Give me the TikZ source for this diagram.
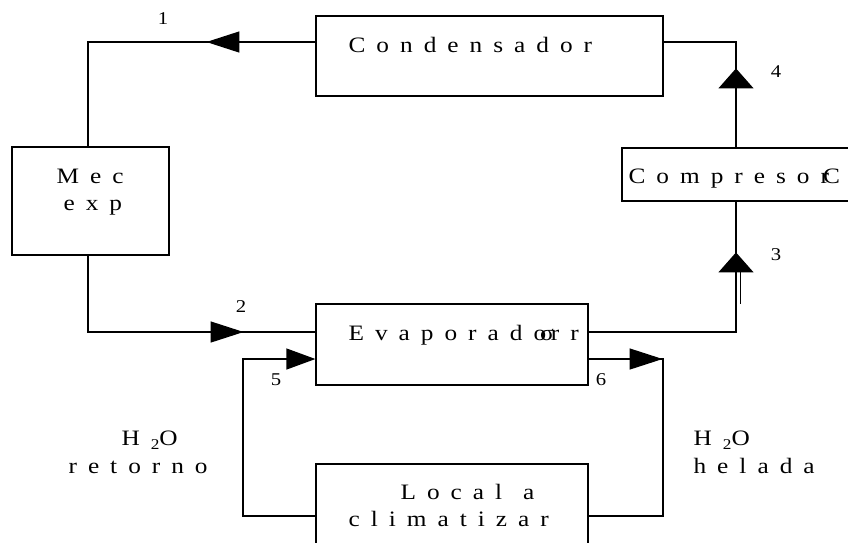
\documentclass[tikz,border=0pt]{standalone}
\usepackage{fontspec}
\usetikzlibrary{arrows.meta,decorations.markings}
\newfontfamily\diagfont[FakeStretch=1.15]{Liberation Serif}
\newcommand\spacedfont{\diagfont\fontsize{22}{26}\selectfont\spaceskip=11pt\relax}
\newcommand\numfont{\diagfont\fontsize{18}{20}\selectfont}
\newcommand\subtwo{\raisebox{-4pt}{\diagfont\fontsize{15}{15}\selectfont 2}}

\begin{document}
\begin{tikzpicture}[x=1pt, y=-1pt, line width=1.2pt,
    unit/.style={draw, inner sep=0pt},
    txt/.style={anchor=base west, inner sep=0pt, font=\spacedfont},
    num/.style={anchor=base, inner sep=0pt, font=\numfont},
    harrow/.style={postaction={decorate}, decoration={markings,
      mark=at position #1 with {\arrow{Triangle[length=33pt,width=21pt]}}}},
    varrow/.style={postaction={decorate}, decoration={markings,
      mark=at position #1 with {\arrow{Triangle[length=20pt,width=35pt]}}}}]
  \useasboundingbox (0,0) rectangle (848,542);

  % boxes
  \node[unit, minimum width=347pt, minimum height=80pt] (cond) at (489.5,56) {};
  \node[unit, minimum width=157pt, minimum height=108pt] (mec) at (90.5,201) {};
  \node[unit, minimum width=272pt, minimum height=81pt] (evap) at (452,344.5) {};
  \node[unit, minimum width=258pt, minimum height=53pt] (comp) at (751,174.5) {};
  \node[unit, minimum width=272pt, minimum height=120pt] (local) at (452,524) {};

  % texts
  \node[txt] (tcond) at (348,52) {C o n d e n s a d o r};
  \node[txt] (tmec) at (56,183) {M e c};
  \node[txt] (texp) at (63,210) {e x p};
  \node[txt] (tevap) at (348,340) {E v a p o r a d o\kern-6pt σ\kern-3pt r r};
  \node[txt] (tcomp) at (628,183) {C o m p r e s o r\kern-6pt C};
  \node[txt] (tloc) at (400,499) {L o c a l\hspace{10pt} a};
  \node[txt] (tclim) at (348,526) {c l i m a t i z a r};
  \node[txt] (thl) at (121,445) {H \subtwo O};
  \node[txt] (tret) at (68,473) {r e t o r n o};
  \node[txt] (thr) at (693,445) {H \subtwo O};
  \node[txt] (thel) at (693,473) {h e l a d a};

  % states
  \node[num] (n1) at (163,24) {1};
  \node[num] (n2) at (241,312) {2};
  \node[num] (n3) at (776,260) {3};
  \node[num] (n4) at (776,77) {4};
  \node[num] (n5) at (276,385) {5};
  \node[num] (n6) at (601,385) {6};

  % corners
  \coordinate (k1) at (88,42);
  \coordinate (k2) at (88,332);
  \coordinate (k3) at (736,332);
  \coordinate (k4) at (736,42);
  \coordinate (k5) at (243,359);
  \coordinate (k5b) at (243,516);
  \coordinate (k6) at (663,359);
  \coordinate (k6b) at (663,516);

  % refrigerant
  \draw[harrow=109pt] (cond.west |- k1) -- (k1) -- (k1 |- mec.north);
  \draw[harrow=232pt] (k2 |- mec.south) -- (k2) -- (evap.west |- k2);
  \draw[varrow=227pt] (evap.east |- k3) -- (k3) -- (k3 |- comp.south);
  \draw[line width=1pt] (740,271) -- (740,304);
  \draw[varrow=79pt] (k4 |- comp.north) -- (k4) -- (cond.east |- k4);

  % water
  \draw[-{Triangle[length=29pt,width=21pt]}] (local.west |- k5b) -- (k5b) -- (k5) -- (evap.west |- k5);
  \draw[harrow=74pt] (evap.east |- k6) -- (k6) -- (k6b) -- (local.east |- k6b);
\end{tikzpicture}
\end{document}
